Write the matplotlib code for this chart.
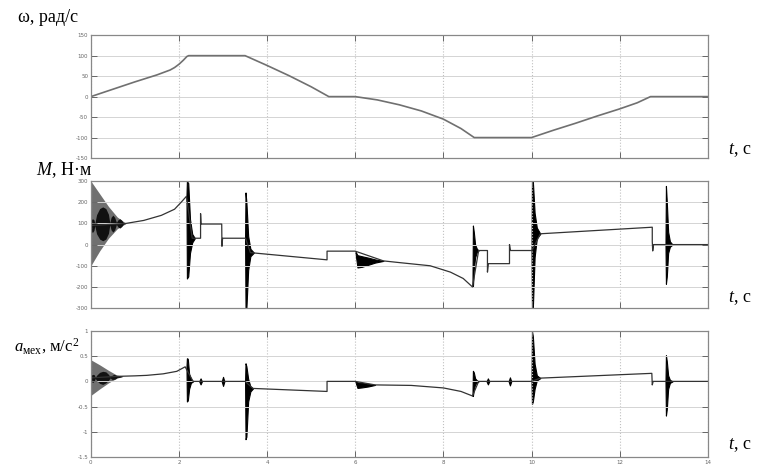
import numpy as np
import matplotlib
matplotlib.use("Agg")
from matplotlib import pyplot as plt

# Data ##################################################################
# angular speed, rad/s
w_t = [0.0, 0.5, 1.0, 1.5, 1.8, 1.9, 2.0, 2.1, 2.18, 2.22, 3.5, 4.0, 4.5, 5.0, 5.4, 6.0,
       6.5, 7.0, 7.5, 8.0, 8.4, 8.7, 10.0, 10.5, 11.0, 11.5, 12.0, 12.4, 12.7, 14.0]
w_v = [0, 18, 36, 53, 65, 71, 79, 89, 98, 100, 100, 76, 51, 24, 0, 0,
       -8, -20, -35, -55, -78, -100, -100, -82, -65, -47, -30, -15, 0, 0]

# torque M, N*m : base trace (small steps and spikes included)
M_t = [0.0, 0.8, 1.2, 1.6, 1.9, 2.05, 2.17, 2.30, 2.49, 2.49, 2.50, 2.97, 2.975, 2.99,
       3.51, 3.62, 5.36, 5.36, 6.0, 6.64, 7.0, 7.7, 8.16, 8.45, 8.66, 8.80, 9.0, 9.0,
       9.02, 9.5, 9.5, 9.52, 10.01, 10.2, 12.74, 12.74, 12.75, 12.77, 14.0]
M_v = [90, 100, 114, 138, 167, 200, 228, 30, 30, 146, 97, 97, -8, 30,
       30, -38, -72, -31, -31, -77, -85, -100, -130, -160, -200, -28, -28, -130,
       -90, -90, 0, -28, -28, 51, 82, 15, -30, 0, 0]
# initial transient: envelope (grey) and beads (black, centre +- half width)
M0_t = [0.0, 0.2, 0.4, 0.6, 0.8]
M0_hi = [300, 240, 180, 130, 100]
M0_lo = [-100, -30, 30, 75, 100]
Mb_t = [0.0, 0.02, 0.04, 0.07, 0.09, 0.13, 0.20, 0.27, 0.34, 0.40, 0.43,
        0.46, 0.50, 0.54, 0.58, 0.62, 0.66, 0.70, 0.74, 0.80]
Mb_c = [90, 90, 90, 92, 94, 96, 98, 98, 98, 98, 98, 99, 99, 99, 100, 100, 100, 100, 100, 100]
Mb_half = [20, 30, 32, 25, 5, 45, 72, 80, 72, 45, 5, 30, 40, 30, 5, 18, 22, 15, 3, 0]
# oscillation bursts: (times, upper envelope, lower envelope)
M_bursts = [
    ([2.17, 2.18, 2.21, 2.25, 2.30, 2.36], [228, 300, 290, 120, 50, 30], [228, -160, -150, -40, 10, 30]),
    ([3.50, 3.51, 3.53, 3.57, 3.62, 3.70], [30, 246, 200, 40, -20, -38], [30, -300, -300, -120, -55, -38]),
    ([6.00, 6.05, 6.15, 6.30, 6.45, 6.64], [-31, -50, -55, -62, -70, -77], [-31, -108, -105, -95, -85, -77]),
    ([8.66, 8.67, 8.69, 8.72, 8.76, 8.80], [-200, 90, 60, 0, -20, -28], [-200, -200, -120, -60, -35, -28]),
    ([10.0, 10.01, 10.03, 10.07, 10.12, 10.2], [-28, 300, 300, 150, 80, 51], [-28, -300, -300, -60, 30, 51]),
    ([13.04, 13.05, 13.07, 13.10, 13.14, 13.2], [0, 277, 200, 60, 15, 0], [0, -185, -150, -40, -10, 0]),
]

# mechanism acceleration, m/s^2
a_t = [0.0, 0.6, 1.0, 1.27, 1.64, 1.95, 2.14, 2.32, 3.50, 3.68, 5.36, 5.36, 6.0, 6.45,
       7.27, 8.0, 8.4, 8.66, 8.80, 10.0, 10.2, 12.73, 12.74, 12.76, 14.0]
a_v = [0.07, 0.10, 0.11, 0.12, 0.15, 0.20, 0.29, 0.0, 0.0, -0.14, -0.20, 0.0, 0.0, -0.07,
       -0.08, -0.13, -0.20, -0.29, 0.0, 0.0, 0.065, 0.16, -0.07, 0.0, 0.0]
a0_t = [0.0, 0.2, 0.4, 0.58, 0.73]
a0_hi = [0.43, 0.33, 0.22, 0.13, 0.10]
a0_lo = [-0.28, -0.15, -0.03, 0.06, 0.10]
ab_t = [0.0, 0.02, 0.05, 0.08, 0.10, 0.14, 0.20, 0.27, 0.34, 0.40, 0.44,
        0.48, 0.52, 0.56, 0.60, 0.65, 0.73]
ab_c = [0.06, 0.06, 0.06, 0.07, 0.07, 0.07, 0.07, 0.07, 0.08, 0.08, 0.08,
        0.08, 0.09, 0.09, 0.09, 0.10, 0.10]
ab_half = [0.05, 0.07, 0.08, 0.06, 0.01, 0.06, 0.11, 0.13, 0.11, 0.06, 0.01,
           0.04, 0.05, 0.04, 0.01, 0.02, 0.0]
a_bursts = [
    ([2.17, 2.18, 2.20, 2.23, 2.27, 2.32], [0.29, 0.46, 0.45, 0.15, 0.05, 0.0], [0.29, -0.40, -0.38, -0.15, -0.03, 0.0]),
    ([2.46, 2.49, 2.52], [0, 0.06, 0], [0, -0.06, 0]),
    ([2.97, 3.00, 3.03], [0, 0.09, 0], [0, -0.09, 0]),
    ([3.50, 3.51, 3.53, 3.57, 3.62, 3.68], [0, 0.36, 0.30, 0.05, -0.10, -0.14], [0, -1.15, -1.10, -0.40, -0.20, -0.14]),
    ([6.00, 6.05, 6.15, 6.30, 6.45], [0, -0.02, -0.03, -0.05, -0.07], [0, -0.13, -0.12, -0.10, -0.07]),
    ([8.66, 8.67, 8.69, 8.72, 8.76, 8.80], [-0.29, 0.21, 0.18, 0.06, 0.02, 0], [-0.29, -0.29, -0.16, -0.06, -0.02, 0]),
    ([8.98, 9.01, 9.04], [0, 0.06, 0], [0, -0.06, 0]),
    ([9.48, 9.51, 9.54], [0, 0.08, 0], [0, -0.08, 0]),
    ([10.0, 10.01, 10.03, 10.07, 10.12, 10.2], [0, 1.0, 0.9, 0.35, 0.12, 0.065], [0, -0.45, -0.40, -0.15, 0.02, 0.065]),
    ([13.04, 13.05, 13.07, 13.10, 13.14, 13.2], [0, 0.52, 0.40, 0.12, 0.03, 0], [0, -0.68, -0.55, -0.15, -0.03, 0]),
]

w_ticks = [-150, -100, -50, 0, 50, 100, 150]
M_ticks = [-300, -200, -100, 0, 100, 200, 300]
a_ticks = [-1.5, -1, -0.5, 0, 0.5, 1]
t_ticks = [0, 2, 4, 6, 8, 10, 12, 14]

# Figure ###############################################################
plt.rcParams['mathtext.fontset'] = 'custom'
plt.rcParams['mathtext.rm'] = 'Liberation Serif'
plt.rcParams['mathtext.it'] = 'Liberation Serif:italic'
serif = 'Liberation Serif'

fig = plt.figure(figsize=(7.57, 4.69), dpi=100)
ax1 = fig.add_axes([0.120, 0.663, 0.815, 0.262])
ax2 = fig.add_axes([0.120, 0.343, 0.815, 0.271])
ax3 = fig.add_axes([0.120, 0.026, 0.815, 0.268])

def style(ax, yticks):
	ax.set_xlim(0, 14)
	ax.set_ylim(yticks[0], yticks[-1])
	ax.set_xticks(t_ticks)
	ax.set_yticks(yticks)
	ax.grid(axis='y', color='#d4d4d4', lw=0.7)
	ax.grid(axis='x', color='#c0c0c0', lw=0.8, ls=':')
	ax.tick_params(direction='in', length=4, width=0.7, colors='#666666',
	               labelsize=4, top=True, right=True, pad=2)
	for s in ax.spines.values():
		s.set_color('#888888')
		s.set_linewidth(0.9)
	ax.yaxis.set_major_formatter(plt.FuncFormatter(lambda v, p: '%g' % v))

style(ax1, w_ticks)
style(ax2, M_ticks)
style(ax3, a_ticks)
ax1.set_xticklabels([])
ax2.set_xticklabels([])

# omega
ax1.plot(w_t, w_v, color='#707070', lw=1.2)

# torque
Mb_c, Mb_half = np.array(Mb_c), np.array(Mb_half)
ax2.fill_between(M0_t, M0_lo, M0_hi, color='#707070', lw=0)
ax2.fill_between(Mb_t, Mb_c - Mb_half, Mb_c + Mb_half, color='#111111', lw=0)
ax2.plot(M_t, M_v, color='#333333', lw=0.9)
for bt, hi, lo in M_bursts:
	ax2.fill_between(bt, lo, hi, color='black', lw=0.8, edgecolor='black')

# acceleration
ab_c, ab_half = np.array(ab_c), np.array(ab_half)
ax3.fill_between(a0_t, a0_lo, a0_hi, color='#707070', lw=0)
ax3.fill_between(ab_t, ab_c - ab_half, ab_c + ab_half, color='#111111', lw=0)
ax3.plot(a_t, a_v, color='#333333', lw=0.9)
for bt, hi, lo in a_bursts:
	ax3.fill_between(bt, lo, hi, color='black', lw=0.8, edgecolor='black')

# labels
fig.text(0.024, 0.963, 'ω, рад/с', fontsize=13, family=serif, va='center')
fig.text(0.048, 0.637, '$M$, Н·м', fontsize=13, family=serif, va='center')
fig.text(0.018, 0.262, r'$a_{\mathrm{мех}}$, м/с$^2$', fontsize=12, family=serif, va='center')
for y in (0.680, 0.365, 0.052):
	fig.text(0.962, y, '$t$, с', fontsize=13, family=serif, va='center')

fig.savefig('out.png', dpi=100)
